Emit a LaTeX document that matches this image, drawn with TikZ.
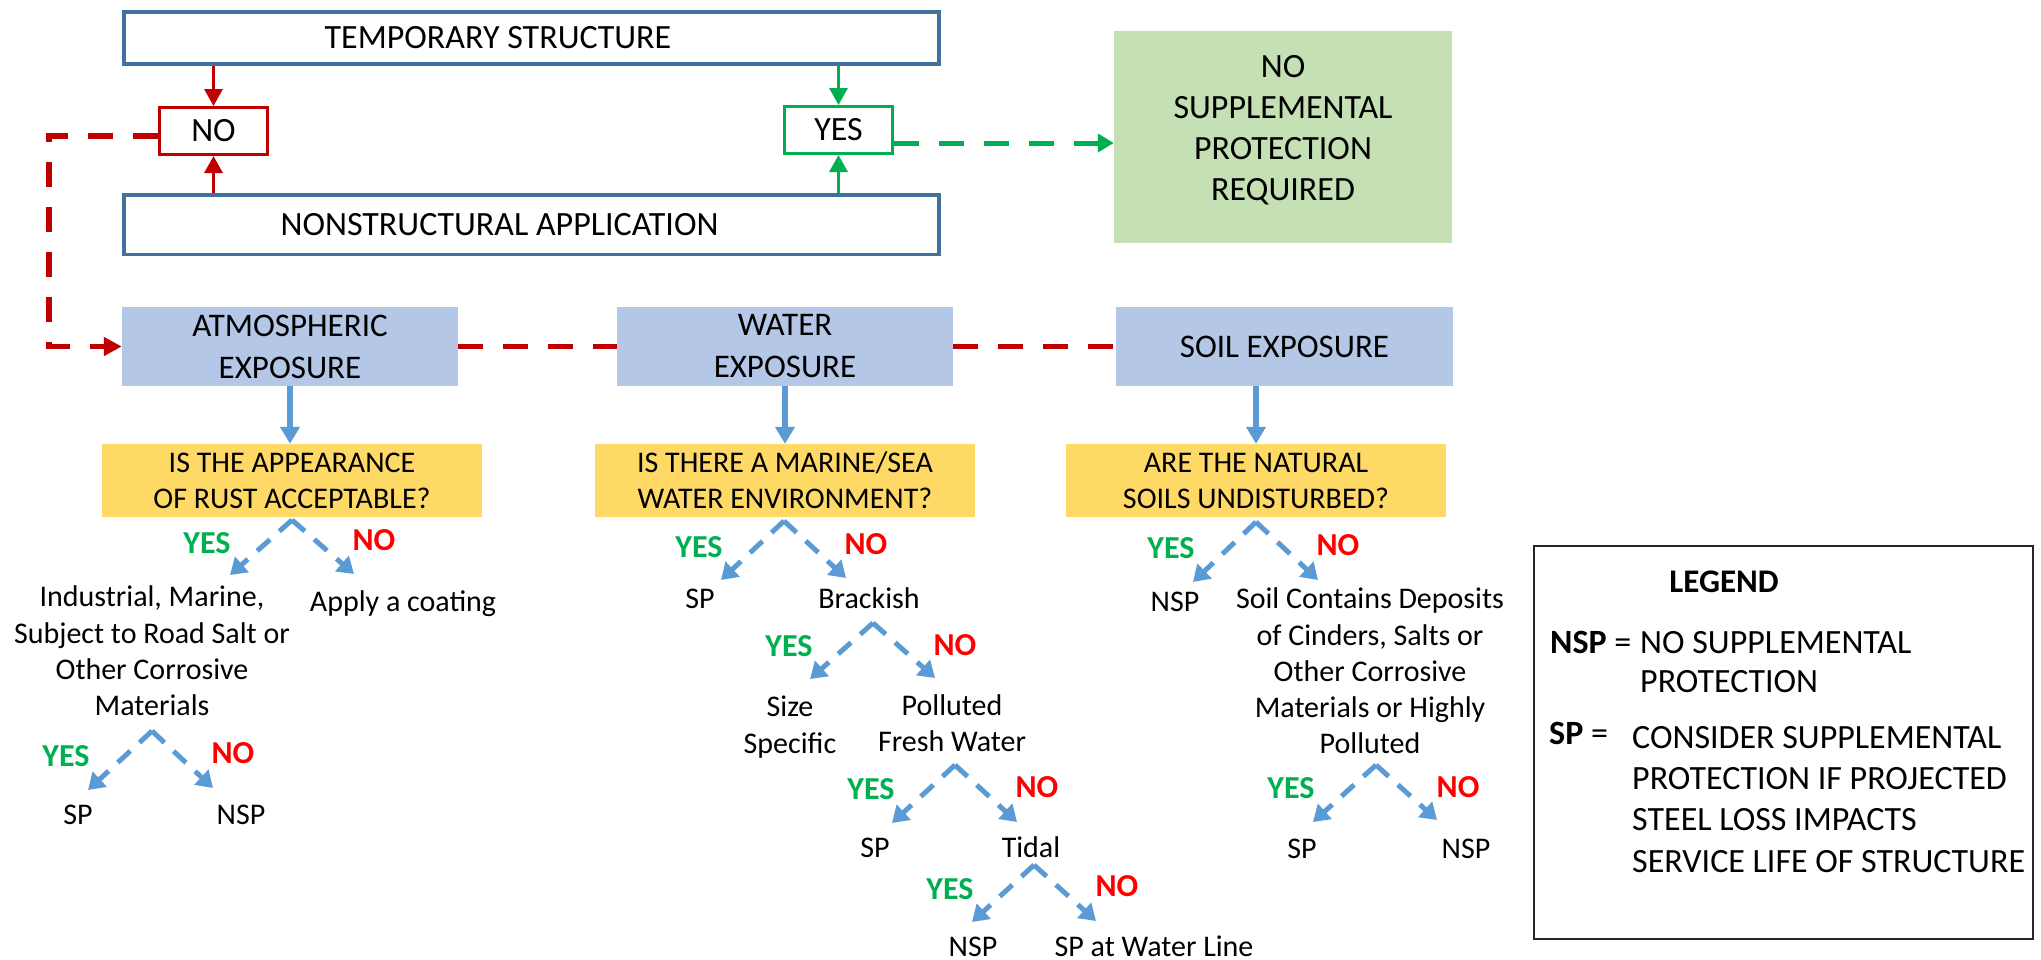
\documentclass[tikz,border=0pt]{standalone}
\usepackage{fontspec}
\setmainfont{Carlito}
\usetikzlibrary{arrows.meta}
\definecolor{boxblue}{HTML}{41719C}
\definecolor{nored}{HTML}{C00000}
\definecolor{yesgreen}{HTML}{00B050}
\definecolor{lblred}{HTML}{FF0000}
\definecolor{expblue}{HTML}{B4C7E7}
\definecolor{qyellow}{HTML}{FFD966}
\definecolor{nprgreen}{HTML}{C5E0B4}
\definecolor{arrowblue}{HTML}{5B9BD5}

\begin{document}
\begin{tikzpicture}[x=1pt,y=-1pt,
    every node/.style={inner sep=0pt},
    topbox/.style={draw=boxblue,line width=3.5pt,minimum width=815pt,font=\fontsize{34}{41}\selectfont},
    ansbox/.style={line width=3pt,minimum width=108pt,minimum height=47pt,font=\fontsize{34}{41}\selectfont},
    expbox/.style={fill=expblue,minimum width=336pt,minimum height=79pt,align=center,font=\fontsize{33}{42}\selectfont},
    qbox/.style={fill=qyellow,minimum width=380pt,minimum height=73pt,align=center,font=\fontsize{30}{36}\selectfont},
    outc/.style={font=\fontsize{30}{36.3}\selectfont},
    lgtxt/.style={font=\fontsize{34}{41.3}\selectfont},
    ylbl/.style={text=yesgreen,font=\fontsize{32}{38}\selectfont\bfseries},
    nlbl/.style={text=lblred,font=\fontsize{32}{38}\selectfont\bfseries},
    rarrow/.style={nored,line width=3.3pt,-{Triangle[length=17pt,width=18pt]}},
    garrow/.style={yesgreen,line width=3.3pt,-{Triangle[length=17pt,width=18pt]}},
    reddash/.style={nored,line width=5.5pt,dash pattern=on 25pt off 20pt},
    greendash/.style={yesgreen,line width=5pt,dash pattern=on 25pt off 20pt,-{Triangle[length=16pt,width=18pt]}},
    barrow/.style={arrowblue,line width=5.5pt,-{Triangle[length=17pt,width=19pt]}},
    branch/.style={arrowblue,line width=5pt,dash pattern=on 17pt off 12.5pt,-{Triangle[length=16pt,width=20pt]}},
  ]
  \useasboundingbox (0,0) rectangle (2041,959);

  % top decision
  \node[topbox,minimum height=52pt] (temp) at (531.5,38) {TEMPORARY STRUCTURE\hspace{67pt}\null};
  \node[topbox,minimum height=59.5pt] (nonst) at (531.5,224.5) {NONSTRUCTURAL APPLICATION\hspace{64pt}\null};
  \node[ansbox,draw=nored] (no) at (213.5,131) {NO};
  \node[ansbox,draw=yesgreen] (yes) at (838.5,130) {YES};
  \node[fill=nprgreen,minimum width=338pt,minimum height=212pt] (npr) at (1283,137) {};
  \node[align=center,font=\fontsize{34}{41}\selectfont] (nprtxt) at (1283,130) {NO\\SUPPLEMENTAL\\PROTECTION\\REQUIRED};

  \draw[rarrow] (no.north |- temp.south) -- (no.north);
  \draw[rarrow] (no.south |- nonst.north) -- (no.south);
  \draw[garrow] (yes.north |- temp.south) -- (yes.north);
  \draw[garrow] (yes.south |- nonst.north) -- (yes.south);
  \coordinate (gy) at ([yshift=-13pt]yes.east);
  \draw[greendash] (gy) -- (gy -| npr.west);

  % exposures
  \node[expbox] (atm) at (290,346.5) {ATMOSPHERIC\\EXPOSURE};
  \node[expbox] (wat) at (785,346.5) {WATER\\EXPOSURE};
  \node[expbox,minimum width=337pt] (soil) at (1284.5,346.5) {SOIL EXPOSURE};

  \coordinate (rc) at (49,240);
  \draw[reddash,-{Triangle[length=18pt,width=18pt]}] ([yshift=-5pt]no.west) -| (rc) |- (atm.west);
  \draw[reddash] (atm.east) -- (wat.west);
  \draw[reddash] (wat.east) -- (soil.west);

  \node[qbox] (atmq) at (292,480.5) {IS THE APPEARANCE\\OF RUST ACCEPTABLE?};
  \node[qbox] (watq) at (785,480.5) {IS THERE A MARINE/SEA\\WATER ENVIRONMENT?};
  \node[qbox] (soilq) at (1256,480.5) {ARE THE NATURAL\\SOILS UNDISTURBED?};

  \draw[barrow] (atm.south) -- (atm.south |- atmq.north);
  \draw[barrow] (wat.south) -- (watq.north);
  \draw[barrow] (soilq.north |- soil.south) -- (soilq.north);

  % atmospheric branch
  \node[outc,align=center] (ind) at (152,651) {Industrial, Marine,\\Subject to Road Salt or\\Other Corrosive\\Materials};
  \node[outc,anchor=base] (coat) at (403,611) {Apply a coating};
  \node[outc,anchor=base] (sp1) at (78,824) {SP};
  \node[outc,anchor=base] (nsp1) at (241,824) {NSP};
  \node[ylbl] (y1) at (207,543) {YES};
  \node[nlbl] (n1) at (374,540) {NO};
  \node[ylbl] (y2) at (66,756) {YES};
  \node[nlbl] (n2) at (233,753) {NO};
  \coordinate (a1) at (292,520);
  \coordinate (a1y) at (230,575);
  \coordinate (a1n) at (354,574);
  \coordinate (a2) at (152,731);
  \coordinate (a2y) at (88,790);
  \coordinate (a2n) at (213,788);
  \draw[branch] (a1) -- (a1y);
  \draw[branch] (a1) -- (a1n);
  \draw[branch] (a2) -- (a2y);
  \draw[branch] (a2) -- (a2n);

  % water branch
  \node[outc,anchor=base] (sp2) at (700,608) {SP};
  \node[outc,anchor=base] (brk) at (869,608) {Brackish};
  \node[outc,align=center] (size) at (790,727) {Size\\Specific};
  \node[outc,align=center] (fresh) at (952,723.5) {Polluted\\Fresh Water};
  \node[outc,anchor=base] (sp3) at (875,857) {SP};
  \node[outc,anchor=base] (tid) at (1031,857) {Tidal};
  \node[outc,anchor=base] (nsp4) at (973,956) {NSP};
  \node[outc,anchor=base] (spwl) at (1154,956) {SP at Water Line};
  \node[ylbl] (y3) at (699,547) {YES};
  \node[nlbl] (n3) at (866,544) {NO};
  \node[ylbl] (y4) at (789,646) {YES};
  \node[nlbl] (n4) at (955,645) {NO};
  \node[ylbl] (y5) at (871,789) {YES};
  \node[nlbl] (n5) at (1037,787) {NO};
  \node[ylbl] (y6) at (950,889) {YES};
  \node[nlbl] (n6) at (1117,886) {NO};
  \coordinate (w1) at (784,521);
  \coordinate (w1y) at (721,580);
  \coordinate (w1n) at (846,578);
  \coordinate (w2) at (873,623);
  \coordinate (w2y) at (810,679);
  \coordinate (w2n) at (935,678);
  \coordinate (w3) at (955,765);
  \coordinate (w3y) at (892,823);
  \coordinate (w3n) at (1017,822);
  \coordinate (w4) at (1034,865);
  \coordinate (w4y) at (972,922);
  \coordinate (w4n) at (1096,921);
  \draw[branch] (w1) -- (w1y);
  \draw[branch] (w1) -- (w1n);
  \draw[branch] (w2) -- (w2y);
  \draw[branch] (w2) -- (w2n);
  \draw[branch] (w3) -- (w3y);
  \draw[branch] (w3) -- (w3n);
  \draw[branch] (w4) -- (w4y);
  \draw[branch] (w4) -- (w4n);

  % soil branch
  \node[outc,anchor=base] (nsp5) at (1175,611) {NSP};
  \node[outc,align=center] (cind) at (1370,671) {Soil Contains Deposits\\of Cinders, Salts or\\Other Corrosive\\Materials or Highly\\Polluted};
  \node[outc,anchor=base] (sp6) at (1302,858) {SP};
  \node[outc,anchor=base] (nsp6) at (1466,858) {NSP};
  \node[ylbl] (y7) at (1171,548) {YES};
  \node[nlbl] (n7) at (1338,545) {NO};
  \node[ylbl] (y8) at (1291,788) {YES};
  \node[nlbl] (n8) at (1458,787) {NO};
  \coordinate (s1) at (1256,522);
  \coordinate (s1y) at (1193,582);
  \coordinate (s1n) at (1318,580);
  \coordinate (s2) at (1376,765);
  \coordinate (s2y) at (1313,822);
  \coordinate (s2n) at (1437,820);
  \draw[branch] (s1) -- (s1y);
  \draw[branch] (s1) -- (s1n);
  \draw[branch] (s2) -- (s2y);
  \draw[branch] (s2) -- (s2n);

  % legend
  \node[draw=black!85,line width=2pt,minimum width=499pt,minimum height=393pt] (lgd) at (1783.5,742.5) {};
  \node[font=\fontsize{33}{40}\selectfont\bfseries,anchor=base] (lgdt) at (1724,592) {LEGEND};
  \node[lgtxt,anchor=base west] (nspk) at (1550,653) {\textbf{NSP} =};
  \node[lgtxt,font=\fontsize{34}{39}\selectfont,align=left,anchor=north west] (nspv) at (1640,631) {NO SUPPLEMENTAL\\PROTECTION};
  \node[lgtxt,anchor=base west] (spk) at (1549,744) {\textbf{SP} =};
  \node[lgtxt,align=left,anchor=north west] (spv) at (1632,726) {CONSIDER SUPPLEMENTAL\\PROTECTION IF PROJECTED\\STEEL LOSS IMPACTS\\SERVICE LIFE OF STRUCTURE};
\end{tikzpicture}
\end{document}
